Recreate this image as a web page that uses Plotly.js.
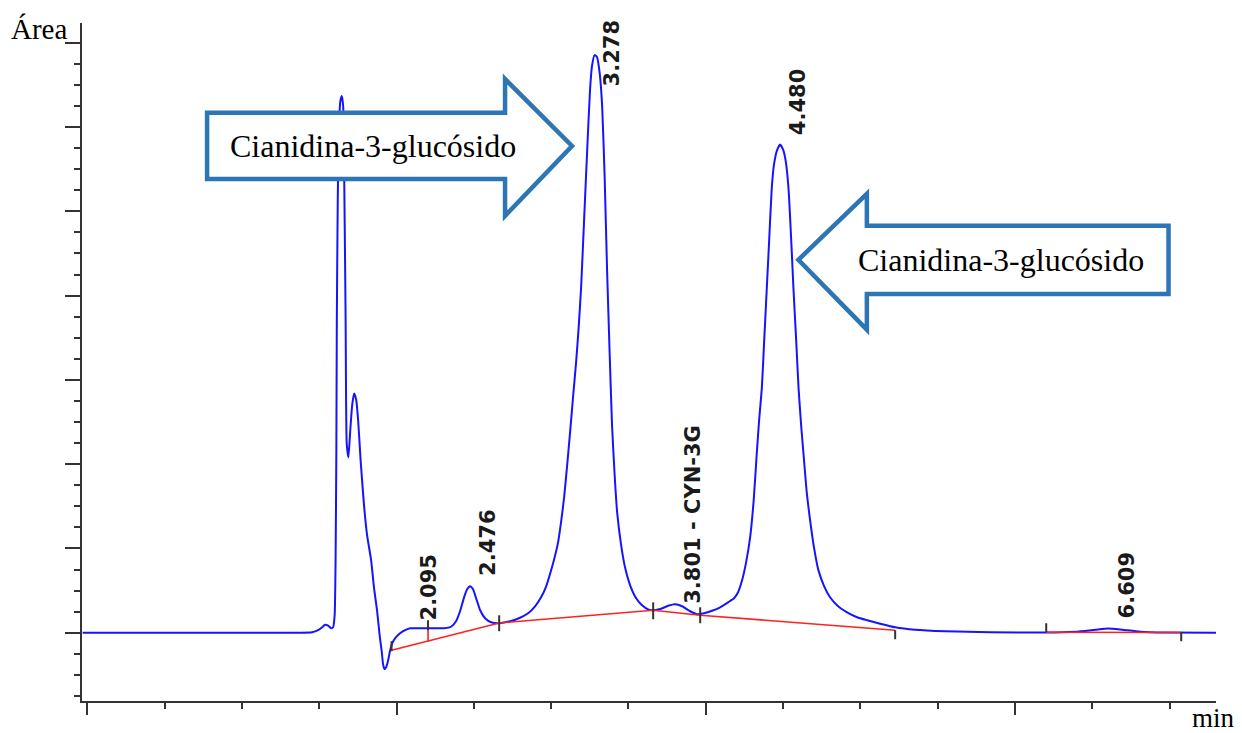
<!DOCTYPE html>
<html>
<head>
<meta charset="utf-8">
<script src="https://cdn.plot.ly/plotly-3.0.1.min.js"></script>
<style>html,body{margin:0;padding:0;background:#fff;}#chart{width:1242px;height:733px;}</style>
</head>
<body>
<div id="chart"></div>
<script>
// Chromatogram signal (time in min, area units)
const timeMin = [-0.03,1.376,1.454,1.493,1.519,1.538,1.558,1.577,1.590,1.600,
1.606,1.611,1.614,1.620,1.627,1.637,1.646,1.655,1.663,1.671,
1.678,1.689,1.700,1.713,1.726,1.739,1.752,1.768,1.790,1.810,
1.836,1.855,1.874,1.891,1.905,1.913,1.922,1.933,1.946,1.959,
1.975,1.997,2.023,2.056,2.088,2.153,2.230,2.308,2.353,2.385,
2.411,2.437,2.457,2.476,2.495,2.515,2.541,2.573,2.612,2.664,
2.735,2.799,2.851,2.896,2.935,2.968,3.000,3.026,3.045,3.064,
3.084,3.103,3.123,3.142,3.162,3.178,3.194,3.213,3.233,3.252,3.265,
3.281,3.297,3.314,3.330,3.346,3.362,3.378,3.394,3.411,3.427,
3.453,3.478,3.511,3.550,3.588,3.627,3.666,3.711,3.757,3.802,
3.847,3.899,3.944,3.989,4.041,4.093,4.145,4.183,4.209,4.235,
4.261,4.287,4.310,4.330,4.345,4.363,4.378,4.395,4.410,4.427,
4.442,4.462,4.481,4.501,4.517,4.535,4.553,4.567,4.585,4.600,
4.617,4.632,4.652,4.675,4.701,4.729,4.766,4.804,4.856,4.914,
4.979,5.044,5.128,5.225,5.354,5.549,5.839,6.202,6.389,6.519,
6.603,6.693,6.810,6.972,7.301];
const signal = [0,0,0.6,3.0,6.5,9.5,8.3,5.3,6.5,20.7,
85.9,216.2,370.3,512.4,595.4,630.9,636.8,625,520.7,370.3,
224.5,207.9,237.5,269.5,283.8,276.7,251.8,204.4,151.1,115.5,
85.9,52.7,26.7,-3.0,-23.1,-37.3,-43.2,-40.9,-32.6,-20.7,
-11.3,-5.3,-0.6,3.0,5.3,5.3,5.3,5.3,7.1,13.6,
25.5,42,51.5,55.1,51.5,40.9,26.7,17.2,12.4,11.3,
13.6,17.8,23.1,31.4,42.1,55.1,74.1,91.8,107.2,130.9,
160.5,197.3,238.7,280.0,322.0,362.0,410.0,488.7,571.7,645.2,673.6,
685.4,683.0,664.1,625,542,429.5,334.7,245.8,186.6,142.8,
103.7,77.6,56.3,40.9,32.6,27.8,26.7,28.4,32,33.8,
31.4,25.5,21.9,23.1,26.1,30.2,36.1,40.9,48,62.2,
83.5,113.1,157,212.7,251.8,290.9,346.6,409.3,465,527.8,
556.3,572.9,579.4,572.9,559.8,527.8,465,409.3,346.6,290.9,
245.9,212.7,168.8,133.3,100.1,74,55.1,42.1,31.4,24.3,
18.4,14.8,10.7,6.5,3.6,1.8,0.6,0.2,1.2,3.6,
5.1,3.6,1.2,0.2,0];

// Integration baseline (red)
const baseTime = [1.968,2.664,3.660,3.964,5.225,null,6.202,7.075];
const baseValue = [-20.7,11.6,26.7,20.7,3.0,null,0.6,0.2];
// Peak split drop-line (red)
const dropTime = [2.204,2.204];
const dropValue = [5.3,-10.1];

// Integration event markers (black)
const markTime = [1.968,2.204,2.664,3.660,3.964,5.225,6.202,7.075];
const markTop = [-10.1,14.8,20.7,36.1,30.2,3.0,11.3,0.6];
const markBottom = [-21.9,3.0,1.8,16.0,11.3,-7.7,0.6,-10.1];

// Peak labels
const peakLabels = ["2.095","2.476","3.278","3.801 - CYN-3G","4.480","6.609"];
const peakTimes = [2.095,2.476,3.278,3.801,4.480,6.609];
const labelBase = [12.4,65.2,646,32.6,588,14.8];

// Callout arrows
const calloutText = ["Cianidina-3-glucósido","Cianidina-3-glucósido"];

const markX = [], markY = [];
markTime.forEach((t,i)=>{ markX.push(t,t,null); markY.push(markTop[i],markBottom[i],null); });

const traces = [
  {x: timeMin, y: signal, mode:'lines', line:{color:'#1414ff', width:2, shape:'spline', smoothing:0.5}, hoverinfo:'skip'},
  {x: baseTime, y: baseValue, mode:'lines', line:{color:'#ff2020', width:1.6}, connectgaps:false, hoverinfo:'skip'},
  {x: dropTime, y: dropValue, mode:'lines', line:{color:'#ff2020', width:1.6}, hoverinfo:'skip'},
  {x: markX, y: markY, mode:'lines', line:{color:'#333333', width:2}, connectgaps:false, hoverinfo:'skip'}
];

const annotations = peakLabels.map((txt,i)=>({
  x: peakTimes[i], y: labelBase[i], xref:'x', yref:'y', text: txt, showarrow:false,
  textangle:-90, xanchor:'center', yanchor:'bottom', xshift:18,
  font:{family:'DejaVu Sans', size:21, color:'#1a1a1a', weight:'bold'}
}));

// Arrow geometry (data coordinates)
const arrowRight = 'M 0.775 617.0 L 2.702 617.0 L 2.702 657.0 L 3.135 577.6 L 2.702 494.7 L 2.702 538.5 L 0.775 538.5 Z';
const arrowLeft = 'M 6.993 482.8 L 5.042 482.8 L 5.042 520.7 L 4.599 442.5 L 5.042 359.6 L 5.042 401.9 L 6.993 401.9 Z';

annotations.push(
  {x:1.845, y:577.6, xref:'x', yref:'y', text: calloutText[0], showarrow:false, xanchor:'center', yanchor:'middle',
   font:{family:'Liberation Serif', size:32, color:'#000'}},
  {x:5.907, y:442.5, xref:'x', yref:'y', text: calloutText[1], showarrow:false, xanchor:'center', yanchor:'middle',
   font:{family:'Liberation Serif', size:32, color:'#000'}},
  {x:0, y:1, xref:'paper', yref:'paper', text:'Área', showarrow:false, xanchor:'right', yanchor:'middle', xshift:-13, yshift:-6,
   font:{family:'Liberation Serif', size:29, color:'#000'}},
  {x:1, y:0, xref:'paper', yref:'paper', text:'min', showarrow:false, xanchor:'center', yanchor:'middle', xshift:-3, yshift:-17,
   font:{family:'Liberation Serif', size:27, color:'#000'}}
);

const layout = {
  width:1242, height:733,
  margin:{l:82, r:26, t:23, b:32},
  paper_bgcolor:'#fff', plot_bgcolor:'#fff',
  showlegend:false,
  xaxis:{range:[-0.034,7.30], showgrid:false, zeroline:false, showline:true, linecolor:'#333', linewidth:2,
    ticks:'outside', ticklen:12, tickwidth:2, tickcolor:'#333', tick0:0, dtick:2, showticklabels:false,
    minor:{dtick:0.5, ticklen:6, tickwidth:2, tickcolor:'#333', ticks:'outside', showgrid:false}},
  yaxis:{range:[-81,723.5], showgrid:false, zeroline:false, showline:true, linecolor:'#333', linewidth:2,
    ticks:'outside', ticklen:15, tickwidth:2, tickcolor:'#333', tick0:0, dtick:100, showticklabels:false,
    minor:{dtick:25, ticklen:6, tickwidth:2, tickcolor:'#333', ticks:'outside', showgrid:false}},
  shapes:[
    {type:'path', path:arrowRight, xref:'x', yref:'y', line:{color:'#2E75B6', width:4.5}, fillcolor:'#ffffff', layer:'above'},
    {type:'path', path:arrowLeft, xref:'x', yref:'y', line:{color:'#2E75B6', width:4.5}, fillcolor:'#ffffff', layer:'above'}
  ],
  annotations: annotations
};

Plotly.newPlot('chart', traces, layout, {displayModeBar:false, staticPlot:true});
</script>
</body>
</html>
